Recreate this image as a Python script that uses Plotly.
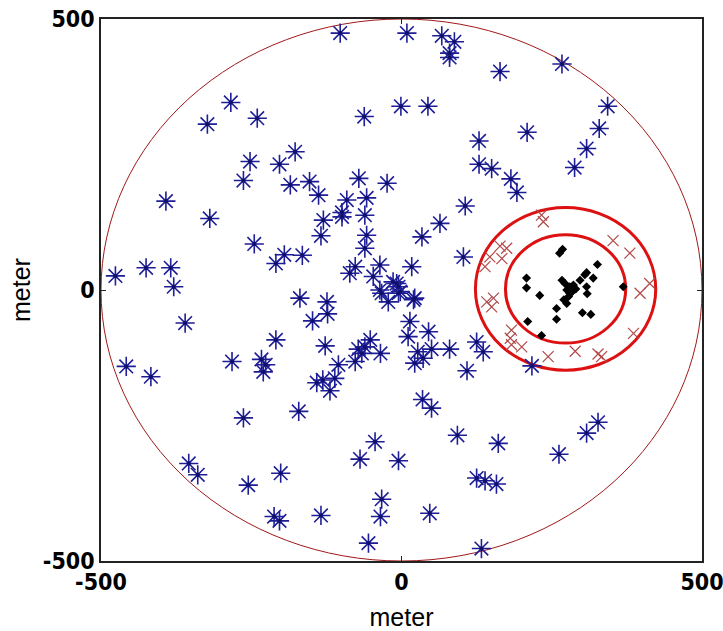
import plotly.graph_objects as go

# Blue stars (all nodes)
star_x = [-102, -284, -323, -240, -177, -252, -203, -263, -185, -153, -138, -71, -91, -392, -319, -130, -99, -99, -134,
          -245, -195, -209, -165, -476, -425, -384, -379, -86, -77,
          -169, -124, -123, -148, -360, -209, -127, -72, -77, -282, -233, -226, -230, -458, -417, -105, -111, -141, -131,
          -119, -263, -171, -69, -354, -339, -255, -201, -212, -203, -134,
          9, 67, 88, 80, 80, 164, 267, -1, 44, -62, 343, 329, 209, 129, 308, 288, 129, 150, 182, 192, -24, -58, -61, -58,
          -61, 106, 64, 34, 103, -36, 17, -47, -14, -5, -2, -8, 22, -36, -22,
          -33, -5, 20, 14, 11, 45, -52, -61, -66, -35, 27, 50, 22, 36, 80, 125, 136, 109, 217, 35, 50, -44, -5, 93, 161,
          262, 308, 327, 125, 139, 158, -33, -35, 47, -55, 133]
star_y = [474, 346, 306, 317, 255, 237, 232, 202, 194, 200, 175, 206, 166, 164, 132, 129, 143, 135, 100,
          85, 65, 49, 64, 26, 41, 41, 6, 31, 43,
          -15, -22, -44, -57, -61, -92, -103, -109, -132, -132, -128, -138, -151, -141, -160, -138, -163, -171, -166,
          -186, -236, -224, -312, -320, -341, -360, -338, -418, -426, -416,
          474, 469, 458, 437, 429, 403, 417, 339, 339, 320, 339, 298, 291, 275, 261, 226, 232, 224, 205, 180, 197, 170, 138, 101,
          77, 155, 123, 98, 61, 46, 43, 25, 15, 6, -3, 12, -15, 0, -22,
          -6, -6, -18, -58, -86, -77, -92, -105, -117, -117, -114, -109, -135, -126, -109, -96, -114, -149, -140, -202, -218, -280, -315, -268, -283,
          -303, -264, -244, -347, -352, -358, -386, -418, -412, -467, -477]

# Red crosses (ring nodes)
cross_x = [233, 236, 164, 175, 167, 139, 147, 352, 380, 413, 397, 142, 153, 150, 386, 183, 181, 183, 200, 244, 289, 327, 333]
cross_y = [138, 126, 81, 77, 58, 43, 61, 91, 68, 12, -6, -22, -15, -31, -80, -74, -89, -101, -105, -123, -113, -118, -123]

# Black diamonds (inner cluster)
dia_x = [263, 268, 326, 208, 208, 230, 267, 272, 280, 275, 280, 278, 275, 286, 297, 305, 308, 319, 308, 309, 258, 258,
         301, 315, 210, 233, 369, 290, 284, 270]
dia_y = [68, 75, 47, 22, 4, -10, 18, 12, 6, 0, -6, -12, -25, 9, 18, 28, 32, 22, 6, -7, -34, -54,
         -42, -45, -58, -84, 6, 2, -3, -18]

# Circles: center x, center y, radius
circ_cx = [0, 273, 273]
circ_cy = [0, 2, 2]
circ_r = [500, 150, 100]
circ_color = ["#a01818", "#dd1111", "#dd1111"]
circ_width = [1, 3, 3]

fig = go.Figure()
fig.add_trace(go.Scatter(x=star_x, y=star_y, mode="markers",
                         marker=dict(symbol="asterisk-open", size=16, color="#1e1e96",
                                     line=dict(color="#1e1e96", width=1.6)),
                         showlegend=False))
fig.add_trace(go.Scatter(x=star_x, y=star_y, mode="markers",
                         marker=dict(symbol="circle", size=4, color="#10106a"), showlegend=False))
fig.add_trace(go.Scatter(x=cross_x, y=cross_y, mode="markers",
                         marker=dict(symbol="x-thin-open", size=11, color="#b04848",
                                     line=dict(color="#b04848", width=1.2)),
                         showlegend=False))
fig.add_trace(go.Scatter(x=dia_x, y=dia_y, mode="markers",
                         marker=dict(symbol="diamond", size=7, color="black"), showlegend=False))

for cx, cy, r, c, w in zip(circ_cx, circ_cy, circ_r, circ_color, circ_width):
    fig.add_shape(type="circle", xref="x", yref="y", x0=cx - r, x1=cx + r, y0=cy - r, y1=cy + r,
                  line=dict(color=c, width=w), layer="below")

tickfont = dict(family="Liberation Sans Narrow, DejaVu Sans Condensed, Liberation Sans", size=23,
                color="black", weight="bold")
axis_common = dict(range=[-500, 500], tickvals=[-500, 0, 500], ticktext=["-500", "0", "500"],
                   showgrid=False, zeroline=False, showline=True, linecolor="#222", linewidth=1.5, mirror="ticks",
                   ticks="inside", ticklen=5, tickcolor="#222", tickfont=tickfont, automargin=False,
                   ticklabeloverflow="allow")

fig.update_layout(
    width=723, height=631,
    margin=dict(l=101, r=21, t=19, b=70),
    plot_bgcolor="white", paper_bgcolor="white",
    xaxis=dict(**axis_common, title=dict(text="meter", standoff=14,
                                          font=dict(family="Liberation Sans, Arial", size=25, color="black"))),
    yaxis=dict(**axis_common),
)
fig.add_annotation(text="meter", xref="paper", yref="paper", x=0, y=0.5, xanchor="center", yanchor="middle",
                   xshift=-80, textangle=-90, showarrow=False,
                   font=dict(family="Liberation Sans, Arial", size=25, color="black"))
fig.write_html("out.html", config={"displayModeBar": False},
               post_script="document.body.style.margin='0';document.body.style.overflow='hidden';")
